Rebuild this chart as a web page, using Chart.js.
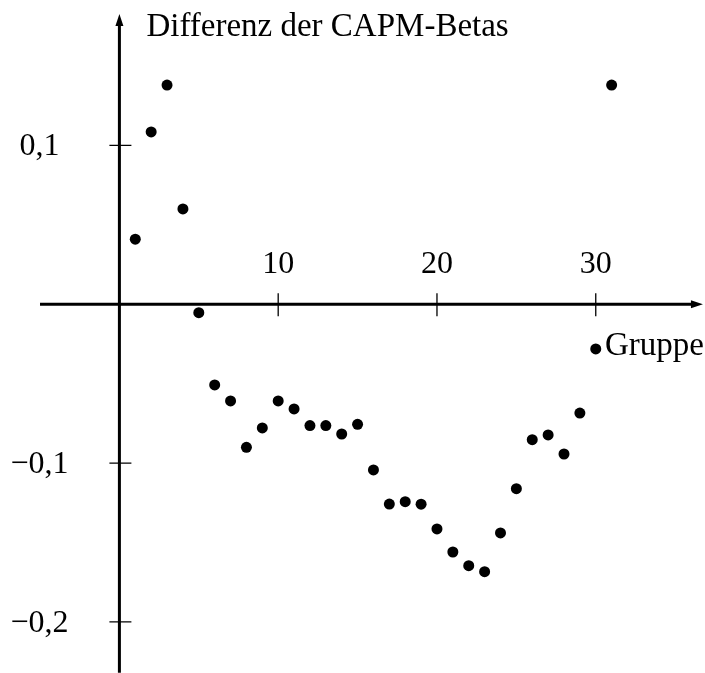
<!DOCTYPE html>
<html>
<head>
<meta charset="utf-8">
<script src="https://cdn.jsdelivr.net/npm/chart.js@4"></script>
<style>
  html, body { margin: 0; padding: 0; background: #fff; }
  #wrap { width: 705px; height: 673px; }
</style>
</head>
<body>
<div id="wrap"><canvas id="chart" width="705" height="673"></canvas></div>
<script>
// Gruppe 1..31 and the difference of the CAPM betas
const groups = [1, 2, 3, 4, 5, 6, 7, 8, 9, 10, 11, 12, 13, 14, 15, 16,
                17, 18, 19, 20, 21, 22, 23, 24, 25, 26, 27, 28, 29, 30, 31];
const betaDiff = [0.041, 0.1085, 0.138, 0.060, -0.0053, -0.0508, -0.0609, -0.0901,
                  -0.0779, -0.0609, -0.0659, -0.0764, -0.0764, -0.0817, -0.0756,
                  -0.1043, -0.1258, -0.1243, -0.1259, -0.1415, -0.156, -0.1646,
                  -0.1684, -0.144, -0.1161, -0.0853, -0.0823, -0.0943, -0.0685,
                  -0.0281, 0.138];

const xTickValues = [10, 20, 30];
const xTickLabels = ["10", "20", "30"];
const yTickValues = [0.1, -0.1, -0.2];
const yTickLabels = ["0,1", "\u22120,1", "\u22120,2"];

// visible window of the scales, and how far the drawn axes reach
const xRange = [-7.52, 36.88];
const yRange = [-0.2322, 0.1916];
const xAxisSpan = [-5, 36.75];
const yAxisSpan = [-0.232, 0.1828];

const yTitle = "Differenz der CAPM-Betas";
const xTitle = "Gruppe";
const TICK_FONT = "32px 'Liberation Serif', 'Times New Roman', serif";
const TITLE_FONT = "33px 'Liberation Serif', 'Times New Roman', serif";

// axes through the origin, TeX picture style
const crossAxes = {
  id: "crossAxes",
  beforeDatasetsDraw(chart) {
    const { ctx, scales: { x, y } } = chart;
    const x0 = x.getPixelForValue(0);
    const y0 = y.getPixelForValue(0);
    const xl = x.getPixelForValue(xAxisSpan[0]);
    const xr = x.getPixelForValue(xAxisSpan[1]);
    const yb = y.getPixelForValue(yAxisSpan[0]);
    const yt = y.getPixelForValue(yAxisSpan[1]);

    ctx.save();
    ctx.strokeStyle = "#000";
    ctx.fillStyle = "#000";

    ctx.lineWidth = 3;
    ctx.beginPath();
    ctx.moveTo(xl, y0); ctx.lineTo(xr - 8, y0);
    ctx.moveTo(x0, yb); ctx.lineTo(x0, yt + 8);
    ctx.stroke();

    ctx.beginPath();
    ctx.moveTo(xr, y0); ctx.lineTo(xr - 12, y0 - 4); ctx.lineTo(xr - 12, y0 + 4); ctx.closePath();
    ctx.moveTo(x0, yt); ctx.lineTo(x0 - 4, yt + 12); ctx.lineTo(x0 + 4, yt + 12); ctx.closePath();
    ctx.fill();

    // tick marks
    ctx.lineWidth = 1.3;
    ctx.beginPath();
    xTickValues.forEach(v => {
      const px = x.getPixelForValue(v);
      ctx.moveTo(px, y0 - 11); ctx.lineTo(px, y0 + 12);
    });
    yTickValues.forEach(v => {
      const py = y.getPixelForValue(v);
      ctx.moveTo(x0 - 10, py); ctx.lineTo(x0 + 12, py);
    });
    ctx.stroke();

    // labels
    ctx.font = TICK_FONT;
    ctx.textBaseline = "alphabetic";
    ctx.textAlign = "center";
    xTickValues.forEach((v, i) => {
      ctx.fillText(xTickLabels[i], x.getPixelForValue(v), y0 - 31);
    });
    yTickValues.forEach((v, i) => {
      ctx.fillText(yTickLabels[i], x0 - 80, y.getPixelForValue(v) + 10);
    });

    ctx.font = TITLE_FONT;
    ctx.textAlign = "left";
    ctx.fillText(yTitle, x0 + 27, 36);
    ctx.textAlign = "right";
    ctx.fillText(xTitle, xr + 1, y0 + 51);
    ctx.restore();
  }
};

new Chart(document.getElementById("chart"), {
  type: "scatter",
  data: {
    datasets: [{
      data: groups.map((g, i) => ({ x: g, y: betaDiff[i] })),
      backgroundColor: "#000",
      borderWidth: 0,
      pointRadius: 5.5,
      pointHoverRadius: 5.5,
      clip: false
    }]
  },
  options: {
    responsive: false,
    animation: false,
    devicePixelRatio: 1,
    layout: { padding: 0, autoPadding: false },
    events: [],
    plugins: {
      legend: { display: false },
      tooltip: { enabled: false }
    },
    scales: {
      x: { type: "linear", min: xRange[0], max: xRange[1], display: false },
      y: { type: "linear", min: yRange[0], max: yRange[1], display: false }
    }
  },
  plugins: [crossAxes]
});
</script>
</body>
</html>
